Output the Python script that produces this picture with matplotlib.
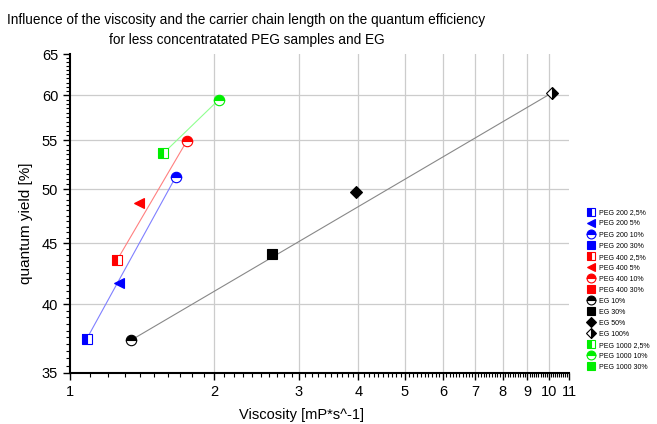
import matplotlib
matplotlib.use("Agg")
import matplotlib.pyplot as plt
from matplotlib.ticker import FixedLocator, NullFormatter, FuncFormatter
from matplotlib.lines import Line2D
import numpy as np

plt.rcParams['font.family'] = ['Liberation Sans', 'DejaVu Sans']

# viscosity [mPa*s], quantum yield [%]
peg200_x = [1.084, 1.268, 1.662]
peg200_y = [37.4, 41.7, 51.2]
peg400_x = [1.255, 1.395, 1.753]
peg400_y = [43.6, 48.7, 54.9]
peg1000_x = [1.566, 2.046]
peg1000_y = [53.6, 59.5]
eg_x = [1.341, 2.645, 3.955, 10.15]
eg_y = [37.3, 44.1, 49.7, 60.3]

legend_labels = ['PEG 200 2,5%', 'PEG 200 5%', 'PEG 200 10%', 'PEG 200 30%',
                 'PEG 400 2,5%', 'PEG 400 5%', 'PEG 400 10%', 'PEG 400 30%',
                 'EG 10%', 'EG 30%', 'EG 50%', 'EG 100%',
                 'PEG 1000 2,5%', 'PEG 1000 10%', 'PEG 1000 30%']

BLUE = '#0000ff'
RED = '#ff0000'
GREEN = '#00ee00'
BLACK = '#000000'

fig = plt.figure(figsize=(6.57, 4.24), dpi=100)
ax = fig.add_axes([0.1065, 0.1203, 0.7595, 0.7523])

# fit lines (first to last sample of each group)
ax.plot([peg200_x[0], peg200_x[-1]], [peg200_y[0], peg200_y[-1]], color='#8080ff', lw=0.8, zorder=2)
ax.plot([peg400_x[0], peg400_x[-1]], [peg400_y[0], peg400_y[-1]], color='#ff8080', lw=0.8, zorder=2)
ax.plot([peg1000_x[0], peg1000_x[-1]], [peg1000_y[0], peg1000_y[-1]], color='#90ff90', lw=0.8, zorder=2)
ax.plot([eg_x[0], eg_x[-1]], [eg_y[0], eg_y[-1]], color='#888888', lw=0.8, zorder=2)

# marker styles per concentration
def mstyle(kind, c):
    if kind == 'sq_half':
        return dict(marker='s', ms=6.5, mfc=c, mec=c, fillstyle='left', mfcalt='white', mew=0.8)
    if kind == 'tri':
        return dict(marker='<', ms=7, mfc=c, mec=c, mew=0.8)
    if kind == 'circ_half':
        return dict(marker='o', ms=7.5, mfc=c, mec=c, fillstyle='top', mfcalt='white', mew=0.8)
    if kind == 'sq':
        return dict(marker='s', ms=6.5, mfc=c, mec=c, mew=0.8)
    if kind == 'dia':
        return dict(marker='D', ms=6.5, mfc=c, mec=c, mew=0.8)
    if kind == 'dia_half':
        return dict(marker='D', ms=6.5, mfc=c, mec=c, fillstyle='right', mfcalt='white', mew=0.8)

def pt(x, y, kind, c):
    ax.plot([x], [y], linestyle='none', zorder=3, **mstyle(kind, c))

pt(peg200_x[0], peg200_y[0], 'sq_half', BLUE)
pt(peg200_x[1], peg200_y[1], 'tri', BLUE)
pt(peg200_x[2], peg200_y[2], 'circ_half', BLUE)
pt(peg400_x[0], peg400_y[0], 'sq_half', RED)
pt(peg400_x[1], peg400_y[1], 'tri', RED)
pt(peg400_x[2], peg400_y[2], 'circ_half', RED)
pt(eg_x[0], eg_y[0], 'circ_half', BLACK)
pt(eg_x[1], eg_y[1], 'sq', BLACK)
pt(eg_x[2], eg_y[2], 'dia', BLACK)
pt(eg_x[3], eg_y[3], 'dia_half', BLACK)
pt(peg1000_x[0], peg1000_y[0], 'sq_half', GREEN)
pt(peg1000_x[1], peg1000_y[1], 'circ_half', GREEN)

ax.set_xscale('log')
ax.set_yscale('log')
ax.set_xlim(1, 11)
ax.set_ylim(35, 65)

xt = list(range(1, 12))
yt = [35, 40, 45, 50, 55, 60, 65]
ax.xaxis.set_major_locator(FixedLocator(xt))
ax.xaxis.set_minor_locator(FixedLocator(np.arange(1.1, 11.0, 0.1)))
ax.yaxis.set_major_locator(FixedLocator(yt))
ax.yaxis.set_minor_locator(FixedLocator(np.arange(35.5, 65, 0.5)))
ax.xaxis.set_major_formatter(FuncFormatter(lambda v, p: '%d' % round(v)))
ax.yaxis.set_major_formatter(FuncFormatter(lambda v, p: '%d' % round(v)))
ax.xaxis.set_minor_formatter(NullFormatter())
ax.yaxis.set_minor_formatter(NullFormatter())

ax.tick_params(which='major', length=5, width=1, labelsize=10.5, direction='out')
ax.tick_params(which='minor', length=3, width=0.8, direction='out')

ax.grid(True, which='major', color='#cccccc', lw=0.9)
ax.xaxis.get_gridlines()[0].set_visible(False)
ax.xaxis.get_gridlines()[-1].set_visible(False)
ax.yaxis.get_gridlines()[0].set_visible(False)
ax.yaxis.get_gridlines()[-1].set_visible(False)
ax.set_axisbelow(True)

for s in ['top', 'right']:
    ax.spines[s].set_visible(False)
for s in ['left', 'bottom']:
    ax.spines[s].set_linewidth(1.5)

ax.set_xlabel('Viscosity [mP*s^-1]', fontsize=10.5)
ax.xaxis.set_label_coords(0.463, -0.11)
ax.set_ylabel('quantum yield [%]', fontsize=11)
ax.yaxis.set_label_coords(-0.074, 0.47)

fig.text(0.375, 0.953, 'Influence of the viscosity and the carrier chain length on the quantum efficiency',
         ha='center', va='center', fontsize=9.8)
fig.text(0.375, 0.906, 'for less concentratated PEG samples and EG',
         ha='center', va='center', fontsize=9.8)

# legend
kinds = ['sq_half', 'tri', 'circ_half', 'sq',
         'sq_half', 'tri', 'circ_half', 'sq',
         'circ_half', 'sq', 'dia', 'dia_half',
         'sq_half', 'circ_half', 'sq']
cols = [BLUE] * 4 + [RED] * 4 + [BLACK] * 4 + [GREEN] * 3
handles = []
for k, c in zip(kinds, cols):
    st = mstyle(k, c)
    st['ms'] = st['ms'] * 0.85
    handles.append(Line2D([], [], linestyle='none', **st))
fig.legend(handles, legend_labels, loc='upper left', bbox_to_anchor=(0.895, 0.506),
           frameon=False, fontsize=5, handlelength=0.8, handletextpad=0.8,
           labelspacing=0.58, borderpad=0, borderaxespad=0)

fig.savefig('out.png', dpi=100)
